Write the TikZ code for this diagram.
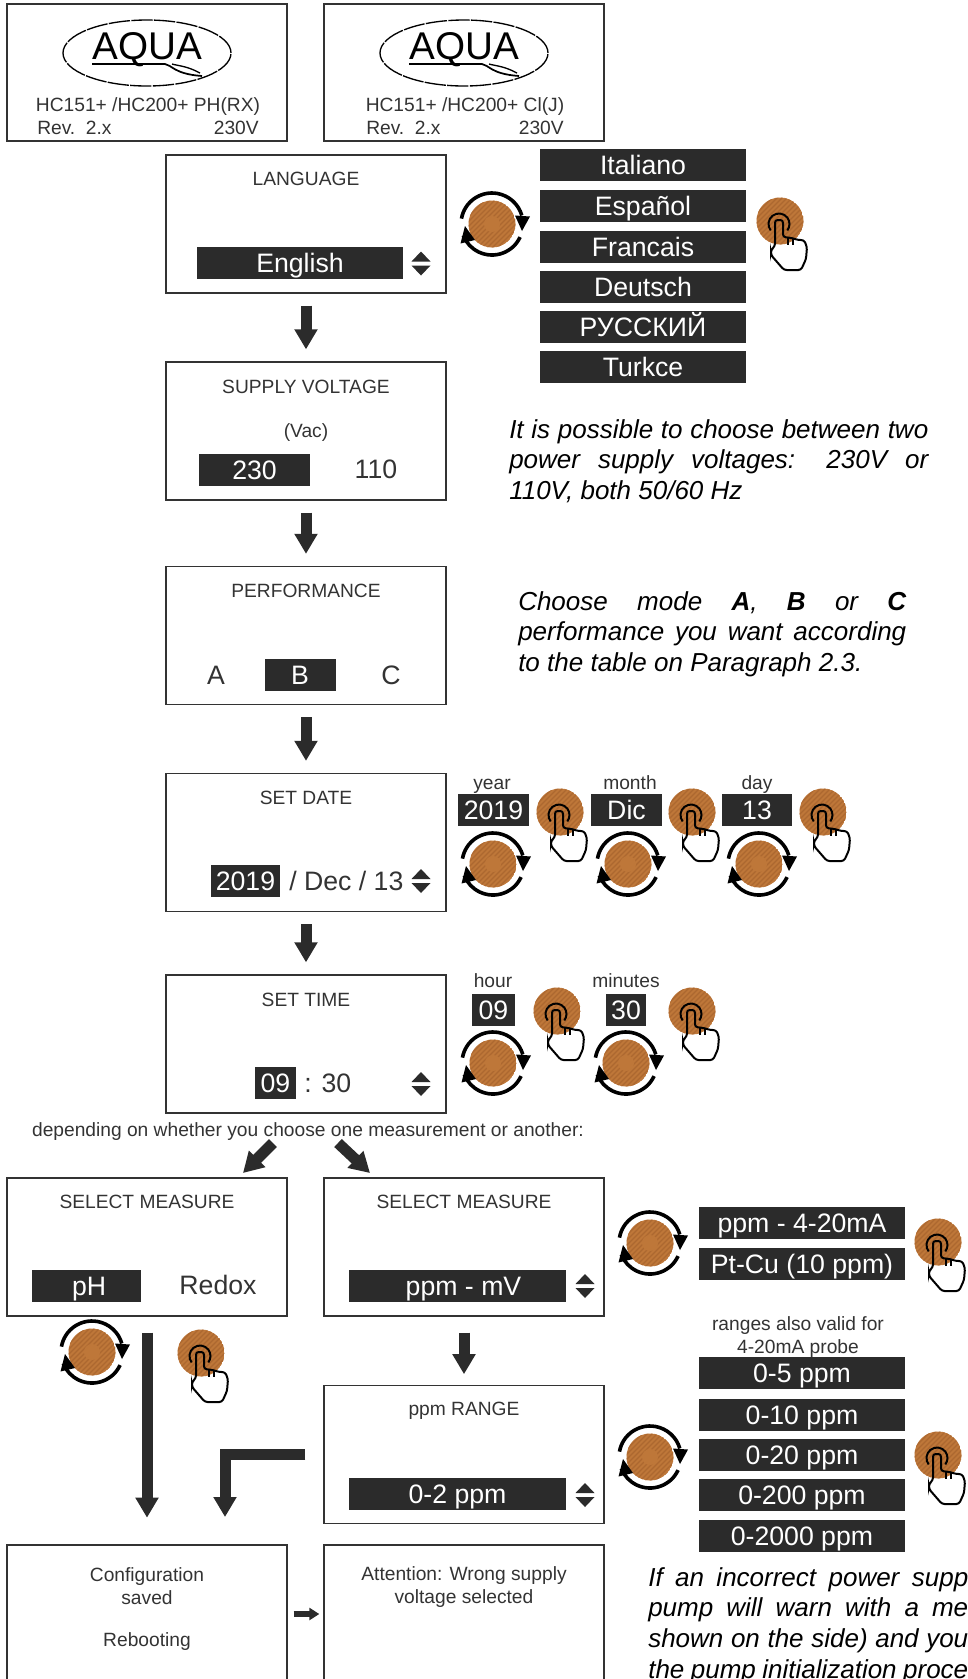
\documentclass[tikz,border=0pt]{standalone}
\usepackage{fontspec}
\setmainfont{Liberation Sans}
\usetikzlibrary{arrows.meta}
\definecolor{inkgray}{HTML}{333333}
\definecolor{bardark}{HTML}{2B2B2B}
\definecolor{knobbrown}{HTML}{BE7739}
\definecolor{knobdark}{HTML}{AC6830}
\tikzset{
    screen/.style={draw=inkgray,line width=1pt,minimum width=210pt,minimum height=103.5pt,inner sep=0pt},
    caption/.style={text=inkgray,font=\fontsize{14.4}{16.8}\selectfont,inner sep=0pt,align=center},
    value/.style={text=inkgray,font=\fontsize{20}{24}\selectfont,inner sep=0pt},
    bar/.style={fill=bardark,text=white,font=\fontsize{20}{24}\selectfont,inner sep=0pt,
        minimum width=#1*0.75pt,minimum height=24pt,text height=14.4pt,text depth=0pt},
    note/.style={anchor=north west,inner sep=0pt,text width=#1*0.75pt,align=justify,
        text=black,font=\fontsize{19.5}{23.1}\selectfont\itshape},
    fatarrow/.style={draw=bardark,line width=8.25pt,-{Triangle[width=16.5pt,length=15pt]},
        shorten <=9pt,shorten >=9pt},
    turnknob/.pic={
        \begin{scope}[x=0.75pt,y=0.75pt]
        \begin{scope}
        \clip(0,0)circle(23.5);
        \fill[knobbrown](0,0)circle(23.5);
        \foreach \d in {-36,-31,...,36}
            \draw[knobdark,line width=1pt](\d-30,-30)--(\d+30,30);
        \fill[knobbrown](0,0)circle(8);
        \end{scope}
        \draw[black,line width=2.7pt](170:31)arc[start angle=170,end angle=16,radius=31];
        \fill[black](23,8.5)--(38,7.5)--(30,-7)--cycle;
        \draw[black,line width=2.7pt](-25:31)arc[start angle=-25,end angle=-158,radius=31];
        \fill[black](-31.5,-19.5)--(-17,-16)--(-27,-2)--cycle;
        \end{scope}
    },
    pressknob/.pic={
        \begin{scope}[x=0.75pt,y=0.75pt]
        \begin{scope}
        \clip(0,0)circle(23.5);
        \fill[knobbrown](0,0)circle(23.5);
        \foreach \d in {-36,-31,...,36}
            \draw[knobdark,line width=1pt](\d-30,-30)--(\d+30,30);
        \end{scope}
        \draw[black,line width=1.5pt](-1,-3)++(218:10.5)arc[start angle=218,end angle=-38,radius=10.5];
        \draw[black,line width=1.5pt,rounded corners=2pt](-5,-25)--(-5,1)--(3,1)--(3,-16)--(12,-17)--(18,-19)--(24,-19)
            --(27,-26)--(26,-38)--(21,-49)--(4,-49)--(-9,-34)--(-9,-29)--cycle;
        \draw[black,line width=1.5pt](8,-16)--(8,-24)(13,-17)--(13,-24);
        \end{scope}
    },
    updown/.pic={
        \begin{scope}[x=0.75pt,y=0.75pt]
        \fill[bardark](-9.5,2)--(9.5,2)--(0,12)--cycle;
        \fill[bardark](-9.5,-2)--(9.5,-2)--(0,-12)--cycle;
        \end{scope}
    },
    logo/.pic={
        \begin{scope}[x=0.75pt,y=0.75pt]
        \draw[black,line width=1pt,dash pattern=on 16pt off 1pt](0,0)ellipse[x radius=84,y radius=33];
        \node[inner sep=0pt,text=black,font=\fontsize{29}{29}\selectfont](-word)at(0,3){AQUA};
        \draw[black,line width=1.3pt](-55,-11)--(18,-11)..controls(25,-12)and(27,-21)..(55,-23);
        \draw[black,line width=1pt](25,-11)..controls(32,-13)and(40,-13)..(53,-20);
        \end{scope}
    }
}
\begin{document}
\begin{tikzpicture}[x=0.75pt,y=-0.75pt]
        \clip(0,0)rectangle(968,1679);

        \node[screen,minimum height=102.75pt](logoboxa)at(147,72.5){};
        \node[screen,minimum height=102.75pt](logoboxb)at(464,72.5){};
        \pic(logoa)at(147,53){logo};
        \pic(logob)at(464,53){logo};
        \node[caption](modela)at(148,107){HC151+ /HC200+ PH(RX)};
        \node[caption](modelb)at(465,107){HC151+ /HC200+ Cl(J)};
        \node[caption,anchor=west](reva)at(37,128){Rev.\ \ 2.x};
        \node[caption,anchor=west](revb)at(366,128){Rev.\ \ 2.x};
        \node[caption,anchor=east](volta)at(259,128){230V};
        \node[caption,anchor=east](voltb)at(564,128){230V};

        \node[screen](lang)at(306,224){};
        \node[screen](supply)at(306,431){};
        \node[screen](perf)at(306,635.5){};
        \node[screen](date)at(306,842.5){};
        \node[screen](time)at(306,1044){};
        \node[screen](selph)at(147,1247){};
        \node[screen](selcl)at(464,1247){};
        \node[screen](range)at(464,1454.5){};
        \node[screen](config)at(147,1614){};
        \node[screen](attn)at(464,1614){};

        \node[caption](langtitle)at(306,179){LANGUAGE};
        \node[caption](supplytitle)at(306,387){SUPPLY VOLTAGE};
        \node[caption](vac)at(306,433){(Vac)};
        \node[caption](perftitle)at(306,591){PERFORMANCE};
        \node[caption](datetitle)at(306,798){SET DATE};
        \node[caption](timetitle)at(306,1000){SET TIME};
        \node[caption](selphtitle)at(147,1202){SELECT MEASURE};
        \node[caption](selcltitle)at(464,1202){SELECT MEASURE};
        \node[caption](rangetitle)at(464,1411){ppm RANGE};
        \node[caption](configtext)at(147,1586){Configuration\\saved};
        \node[caption](reboot)at(147,1642){Rebooting};
        \node[caption](attntext)at(464,1587){Attention: Wrong supply\\voltage selected};
        \node[caption](depend)at(308,1132){depending on whether you choose one measurement or another:};

        \node[bar=206](english)at(300,262.5){English};
        \node[bar=111](volt230)at(254.5,469.5){230};
        \node[value](volt110)at(376,469){110};
        \node[value](perfa)at(216,675){A};
        \node[bar=71](perfb)at(300,674.5){B};
        \node[value](perfc)at(391,675){C};
        \node[bar=69](dateyear)at(245.5,881){2019};
        \node[value,anchor=west](daterest)at(289,881){/ Dec / 13};
        \node[bar=41](timehour)at(275.5,1083){09};
        \node[value,anchor=west](timerest)at(304,1083){: 30};
        \node[bar=109](barph)at(86.5,1286){\hspace*{4pt}pH};
        \node[value](redox)at(218,1285){Redox};
        \node[bar=217](barppm)at(457.5,1286){\hspace*{9pt}ppm - mV};
        \node[bar=217](barrange)at(457.5,1494){0-2 ppm};

        \pic at(421,263.5){updown};
        \pic at(421,881){updown};
        \pic at(421,1084){updown};
        \pic at(585,1286){updown};
        \pic at(585,1495){updown};

        \foreach \name/\cy/\lab in {italiano/165/Italiano,espanol/206/Español,francais/247/Francais,
                deutsch/287/Deutsch,russian/327/РУССКИЙ,turkce/366.5/Turkce}
            \node[bar=206](\name)at(643,\cy){\lab};
        \foreach \name/\cy/\lab in {ppmma/1222.5/ppm - 4-20mA,ptcu/1263.5/Pt-Cu (10 ppm),range5/1373/0-5 ppm,
                range10/1414.5/0-10 ppm,range20/1454.5/0-20 ppm,range200/1495/0-200 ppm,range2000/1535.5/0-2000 ppm}
            \node[bar=206](\name)at(802,\cy){\lab};
        \node[caption](rangesnote)at(798,1337){ranges also valid for\\4-20mA probe};

        \node[caption,anchor=base](yearlabel)at(492,789){year};
        \node[caption,anchor=base](monthlabel)at(630,789){month};
        \node[caption,anchor=base](daylabel)at(757,789){day};
        \node[bar=71](baryear)at(493.5,810){2019};
        \node[bar=71](barmonth)at(626.5,810){Dic};
        \node[bar=70](barday)at(757,810){13};
        \node[caption,anchor=base](hourlabel)at(493,987){hour};
        \node[caption,anchor=base](minlabel)at(626,987){minutes};
        \node[bar=43](barhour)at(493.5,1010){09};
        \node[bar=40](barmin)at(626,1010){30};

        \foreach \px/\py in {492/224,493/864,628/864,759/864,493/1063,626/1063,92/1352,650/1243,650/1457}
            \pic at(\px,\py){turnknob};
        \foreach \px/\py in {780/221,560/812,692/812,823/812,557/1011,692/1011,201/1353,938/1242,938/1455}
            \pic at(\px,\py){pressknob};

        \draw[fatarrow](lang.south)--(supply.north);
        \draw[fatarrow](supply.south)--(perf.north);
        \draw[fatarrow](perf.south)--(date.north);
        \draw[fatarrow](date.south)--(time.north);
        \coordinate(forkl)at(273,1143);
        \coordinate(forkr)at(338,1143);
        \coordinate(tipl)at(243,1173);
        \coordinate(tipr)at(370,1173);
        \draw[fatarrow,shorten <=0pt,shorten >=0pt](forkl)--(tipl);
        \draw[fatarrow,shorten <=0pt,shorten >=0pt](forkr)--(tipr);
        \draw[fatarrow,shorten <=12pt,shorten >=8pt](selcl.south)--(range.north);
        \draw[fatarrow,shorten <=12pt,shorten >=20pt](selph.south)--(config.north);
        \coordinate(bentend)at(225,1517);
        \draw[fatarrow,shorten <=13.5pt,shorten >=0pt](range.west)-|(bentend);
        \draw[fatarrow,line width=4.5pt,-{Triangle[width=9pt,length=7.5pt]},shorten <=4.5pt,shorten >=3pt](config.east)--(attn.west);

        \node[note=419](powernote)at(509,419){It is possible to choose between two\linebreak power supply voltages: 230V or\linebreak 110V, both 50/60 Hz};
        \node[note=388](modenote)at(518,591){Choose mode \textbf{A}, \textbf{B} or \textbf{C}\linebreak performance you want according\linebreak to the table on Paragraph 2.3.};
        \node[note=320](warnnote)at(648,1567){If an incorrect power supp\linebreak pump will warn with a me\linebreak shown on the side) and you\linebreak the pump initialization proce};
    \end{tikzpicture}
\end{document}
